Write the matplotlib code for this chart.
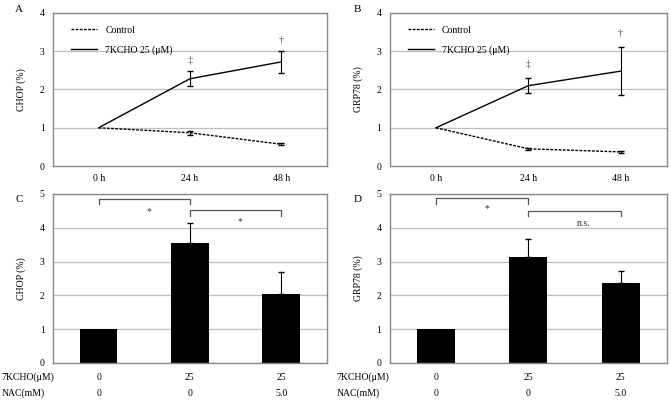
import matplotlib
matplotlib.use("Agg")
import matplotlib.pyplot as plt
import matplotlib.transforms as mtransforms
from matplotlib.lines import Line2D

plt.rcParams['font.family'] = ['Liberation Serif', 'DejaVu Serif']
plt.rcParams['font.size'] = 7

# ---------------- data ----------------
time_labels = ["0 h", "24 h", "48 h"]

chop_control = [1.0, 0.87, 0.57]
chop_control_err = [0.0, 0.05, 0.02]
chop_7k = [1.0, 2.28, 2.72]
chop_7k_err = [0.0, 0.20, 0.28]

grp_control = [1.0, 0.45, 0.37]
grp_control_err = [0.0, 0.03, 0.02]
grp_7k = [1.0, 2.10, 2.48]
grp_7k_err = [0.0, 0.20, 0.62]

kcho_labels = ["0", "25", "25"]
nac_labels = ["0", "0", "5.0"]

chop_bar = [1.0, 3.55, 2.05]
chop_bar_err = [0.0, 0.60, 0.63]
grp_bar = [1.0, 3.12, 2.37]
grp_bar_err = [0.0, 0.56, 0.35]

fig = plt.figure(figsize=(6.71, 4.04), dpi=100)

frame_col = "#8a8a8a"
grid_col = "#bdbdbd"
dash = (0, (2, 1))


def style_axes(ax, ymax):
    for s in ax.spines.values():
        s.set_color(frame_col)
        s.set_linewidth(1.0)
    ax.set_ylim(0, ymax)
    ax.set_yticks(range(0, ymax + 1))
    ax.yaxis.grid(True, color=grid_col, linewidth=0.9)
    ax.set_axisbelow(True)
    ax.tick_params(length=0, pad=6)


def draw_err(ax, x, y, e, lower=True):
    xs = [xi for xi, ei in zip(x, e) if ei > 0]
    ys = [yi for yi, ei in zip(y, e) if ei > 0]
    es = [ei for ei in e if ei > 0]
    if lower:
        yerr = es
    else:
        yerr = [[0] * len(es), es]
    ax.errorbar(xs, ys, yerr=yerr, fmt="none", ecolor="black",
                elinewidth=0.8, capsize=2, zorder=3)


def line_panel(rect, ctrl, ctrl_err, trt, trt_err, ylabel, marks, letter, letter_x):
    ax = fig.add_axes(rect)
    x = list(range(len(time_labels)))
    ax.plot(x, ctrl, color="black", linestyle=dash, linewidth=1.0)
    draw_err(ax, x, ctrl, ctrl_err)
    ax.plot(x, trt, color="black", linestyle="-", linewidth=1.0)
    draw_err(ax, x, trt, trt_err)
    style_axes(ax, 4)
    ax.set_xlim(-0.5, 2.5)
    ax.set_xticks(x)
    ax.set_xticklabels(time_labels)
    ax.set_ylabel(ylabel, labelpad=10)
    for (xi, yi, s) in marks:
        ax.text(xi, yi, s, ha="center", va="center", color="#555555", fontsize=7.5)
    handles = [Line2D([], [], color="black", linestyle=dash, linewidth=1.0),
               Line2D([], [], color="black", linestyle="-", linewidth=1.0)]
    ax.legend(handles, ["Control", "7KCHO 25 (μM)"], loc="upper left",
              frameon=False, handlelength=2.7, handletextpad=0.8,
              labelspacing=1.1, borderaxespad=0.9, bbox_to_anchor=(0.02, 1.0))
    fig.text(letter_x, 0.988, letter, ha="center", va="top", fontsize=8)
    return ax


def bar_panel(rect, vals, errs, ylabel, brackets, letter, letter_x, label_x):
    ax = fig.add_axes(rect)
    x = list(range(len(vals)))
    ax.bar(x, vals, width=0.41, color="black", zorder=2)
    draw_err(ax, x, vals, errs, lower=False)
    style_axes(ax, 5)
    ax.set_xlim(-0.5, 2.5)
    ax.set_xticks([])
    ax.set_ylabel(ylabel, labelpad=10)
    trans = mtransforms.blended_transform_factory(ax.transData, fig.transFigure)
    for xi, (a, b) in enumerate(zip(kcho_labels, nac_labels)):
        ax.text(xi, 1 - 377 / 404, a, transform=trans, ha="center", va="center")
        ax.text(xi, 1 - 393 / 404, b, transform=trans, ha="center", va="center")
    fig.text(label_x, 1 - 377 / 404, "7KCHO(μM)", ha="left", va="center")
    fig.text(label_x, 1 - 393 / 404, "NAC(mM)", ha="left", va="center")
    for (x0, x1, ytop, yleg, label, ylab) in brackets:
        ax.plot([x0, x0, x1, x1], [yleg, ytop, ytop, yleg], color="#555555",
                linewidth=0.9, clip_on=False)
        ax.text((x0 + x1) / 2 + (0.05 if label == "*" else 0.1), ylab, label,
                ha="center", va="center", fontsize=7, color="#333333")
    fig.text(letter_x, 1 - 195 / 404, letter, ha="center", va="top", fontsize=8)
    return ax


line_panel([0.079, 0.589, 0.408, 0.379], chop_control, chop_control_err, chop_7k,
           chop_7k_err, "CHOP (%)", [(1, 2.77, "‡"), (2, 3.3, "†")], "A", 0.028)
line_panel([0.581, 0.589, 0.413, 0.379], grp_control, grp_control_err, grp_7k,
           grp_7k_err, "GRP78 (%)", [(1, 2.67, "‡"), (2, 3.48, "†")], "B", 0.533)

bar_panel([0.079, 0.1015, 0.408, 0.4185], chop_bar, chop_bar_err, "CHOP (%)",
          [(0, 1, 4.84, 4.7, "*", 4.48), (1, 2, 4.51, 4.35, "*", 4.18)],
          "C", 0.028, 0.002)
bar_panel([0.581, 0.1015, 0.413, 0.4185], grp_bar, grp_bar_err, "GRP78 (%)",
          [(0, 1, 4.87, 4.7, "*", 4.57), (1, 2, 4.5, 4.35, "n.s.", 4.12)],
          "D", 0.533, 0.502)

fig.savefig("out.png", dpi=100)
